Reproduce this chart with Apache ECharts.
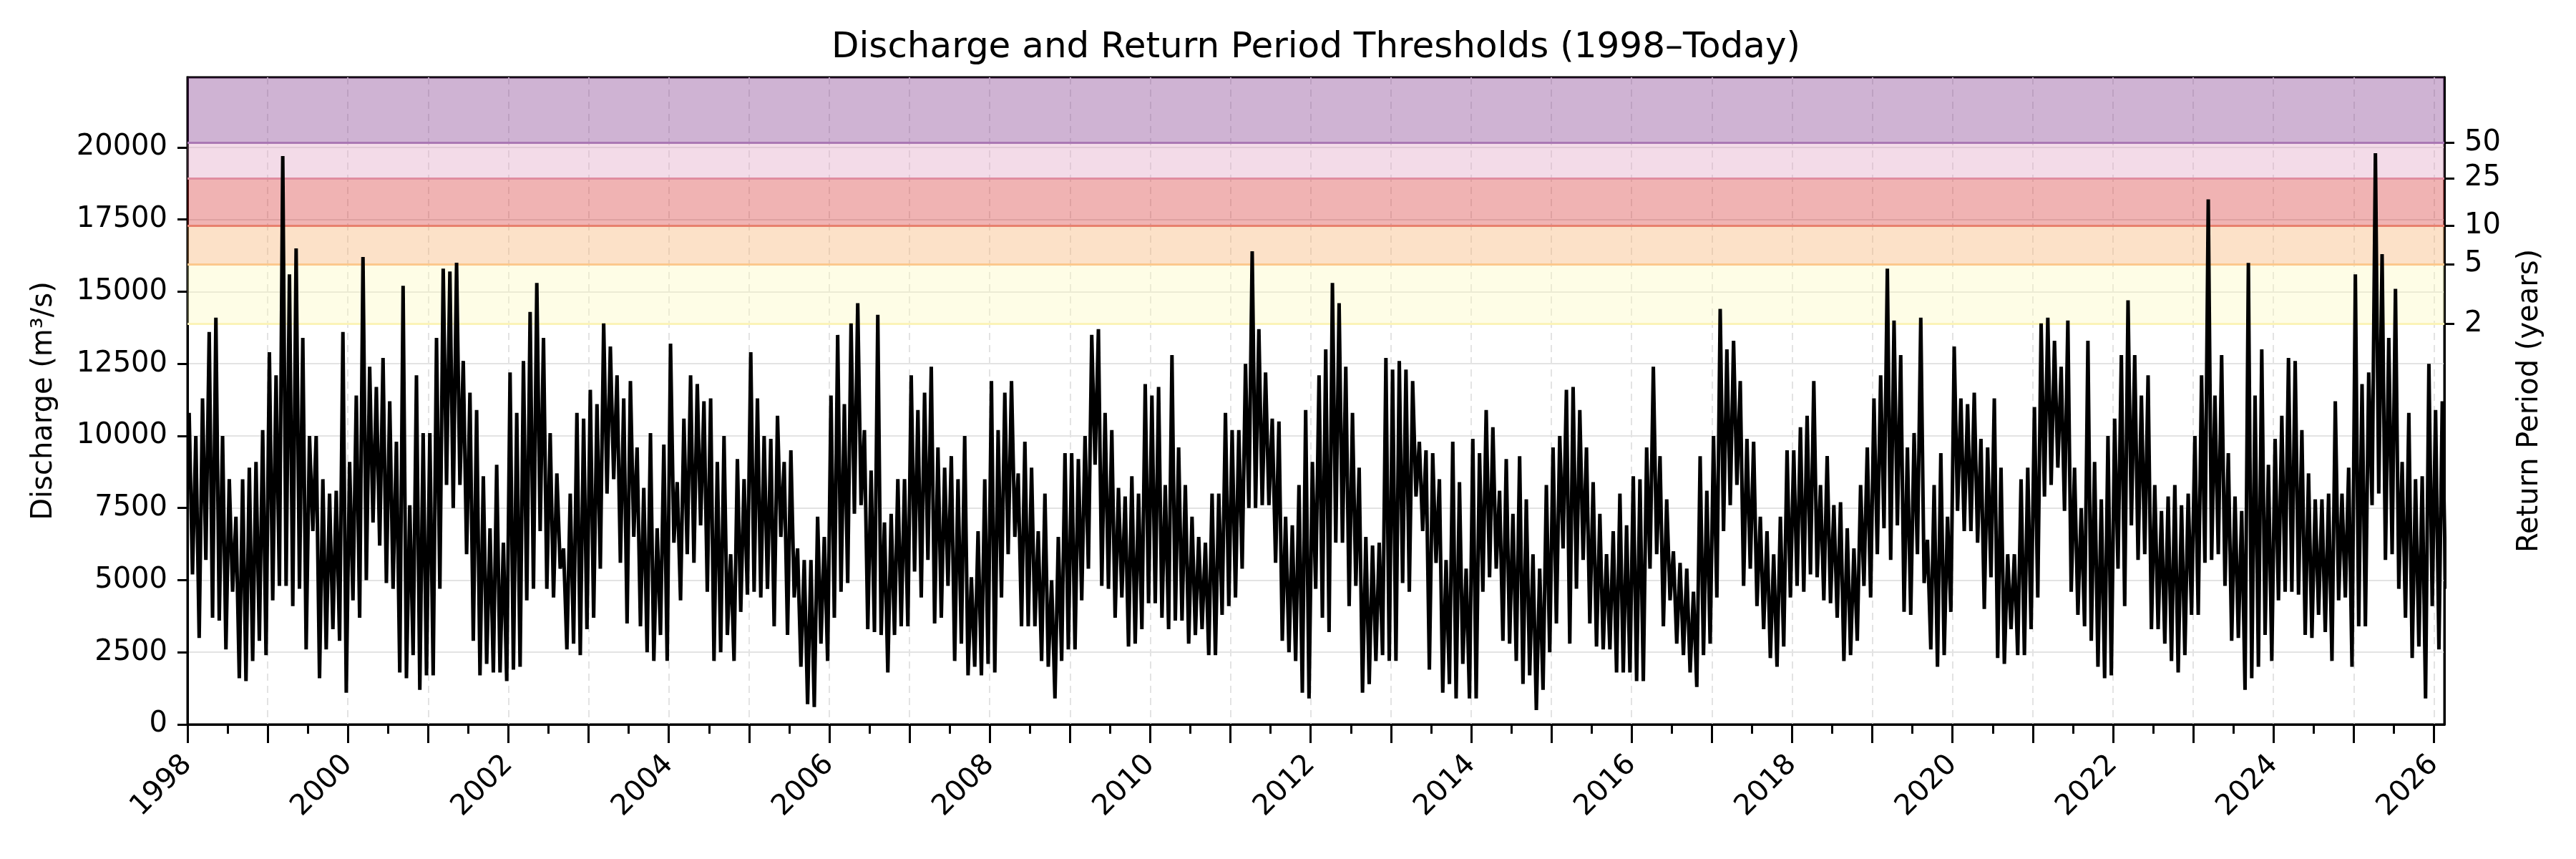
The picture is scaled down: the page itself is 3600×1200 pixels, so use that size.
<!DOCTYPE html>
<html><head><meta charset="utf-8">
<script src="https://cdn.jsdelivr.net/npm/echarts@6/dist/echarts.min.js"></script>
<style>html,body{margin:0;padding:0;background:#fff}#c{width:3600px;height:1200px}</style>
</head><body><div id="c"></div>
<script>
// ---- data (monthly envelope, m3/s) ----
const startYear = 1998;
const monthHigh = [
 10800,10000,11300,13600,14100,10000,8500,7200,8500,8900,9100,10200,
 12900,12100,19700,15600,16500,13400,10000,10000,8500,8000,8100,13600,
 9100,11400,16200,12400,11700,12700,11200,9800,15200,7600,12100,10100,
 10100,13400,15800,15700,16000,12600,11500,10900,8600,6800,9000,6300,
 12200,10800,12600,14300,15300,13400,10100,8700,6100,8000,10800,10600,
 11600,11100,13900,13100,12100,11300,11900,9600,8200,10100,6800,9700,
 13200,8400,10600,12100,11800,11200,11300,9100,10000,5900,9200,8500,
 12900,11300,10000,9900,10700,9100,9500,6100,5700,5700,7200,6500,
 11400,13500,11100,13900,14600,10200,8800,14200,7000,7300,8500,8500,
 12100,10900,11500,12400,9600,8900,9300,8500,10000,5100,6700,8500,
 11900,10200,11500,11900,8700,9800,8900,6700,8000,5000,6500,9400,
 9400,9200,10000,13500,13700,10800,10200,8200,7900,8600,8000,11800,
 11400,11700,8300,12800,9600,8300,7200,6500,6300,8000,8000,10800,
 10200,10200,12500,16400,13700,12200,10600,10500,7200,6900,8300,10900,
 9100,12100,13000,15300,14600,12400,10800,8900,6500,6200,6300,12700,
 12300,12600,12300,11900,9800,9500,9400,8500,5700,9800,8400,5400,
 9900,9400,10900,10300,8100,9200,7300,9300,7800,5900,5400,8300,
 9600,10000,11600,11700,10900,9600,8400,7300,5900,6700,8000,6900,
 8600,8500,9600,12400,9300,7800,6000,5600,5400,4600,9300,8100,
 10000,14400,13000,13300,11900,9900,9800,7200,6700,5900,7200,9500,
 9500,10300,10700,11900,8300,9300,7600,7700,6800,6100,8300,9600,
 11300,12100,15800,14000,12800,9600,10100,14100,6400,8300,9400,7200,
 13100,11300,11100,11500,9900,9600,11300,8900,5900,5900,8500,8900,
 11000,13900,14100,13300,12400,14000,8900,7500,13300,9100,7800,10000,
 10600,12800,14700,12800,11400,12100,8300,7400,7900,8300,7600,8000,
 10000,12100,18200,11400,12800,9400,7900,7400,16000,11400,13000,9000,
 9900,10700,12700,12600,10200,8700,7800,7800,8000,11200,8000,8900,
 15600,11800,12200,19800,16300,13400,15100,9100,10800,8500,8600,12500,
 10900,11200
];
const monthLow = [
 5200,3000,5700,3700,3600,2600,4600,1600,1500,2200,2900,2400,
 4300,4800,4800,4100,4700,2600,6700,1600,2600,3300,2900,1100,
 4300,3700,5000,7000,6200,4900,4700,1800,1600,2400,1200,1700,
 1700,4700,8300,7500,8300,5900,2900,1700,2100,1800,1800,1500,
 1900,2000,4300,4700,6700,4700,4400,5400,2600,2800,2400,3300,
 3700,5400,8000,8500,5600,3500,6500,3400,2500,2200,3100,2200,
 6300,4300,5900,5600,6900,4600,2200,2500,3100,2200,3900,4500,
 4600,4400,4700,3400,6500,3100,4400,2000,700,600,2800,2200,
 3700,4600,4900,7300,7600,3300,3200,3100,1800,3100,3400,3400,
 5300,4400,5700,3500,3700,4800,2200,2800,1700,2000,1700,2100,
 1800,4400,5900,6500,3400,3400,3400,2200,2000,900,2200,2600,
 2600,4300,5400,9000,4800,4700,3700,4400,2700,2800,3300,4200,
 4200,3700,3300,3600,3600,2800,3100,3300,2400,2400,3800,4100,
 4400,5400,7500,7500,7600,7600,5600,2900,2500,2200,1100,900,
 4700,3700,3200,6300,6300,4100,4800,1100,1400,2200,2400,2200,
 2200,4900,4600,7900,6700,1900,5600,1100,1400,900,2100,900,
 900,4600,5100,5400,2900,2800,2200,1400,1700,500,1200,2500,
 3500,6100,2800,4700,5700,3500,2700,2600,2600,1800,1800,1800,
 1500,1500,5400,5900,3400,4300,2800,2400,1800,1300,2400,2800,
 4400,6700,7600,8300,4800,5400,4100,3300,2300,2000,2700,4400,
 4800,4600,5200,5100,4300,4200,3700,2200,2400,2900,4800,4400,
 5900,6800,5700,6900,3900,3800,5900,4900,2600,2000,2400,3900,
 7400,6700,6700,6300,4000,5100,2300,2100,3300,2400,2400,3300,
 4400,7900,8300,8900,7400,4600,3800,3400,2900,2000,1600,1700,
 5400,4100,6900,5700,5900,3300,3300,2800,2200,1800,2400,3800,
 3800,5600,5700,5900,4800,2900,3000,1200,1600,2000,3100,2200,
 4300,4600,4600,4500,3100,3000,3800,3200,2200,4300,4400,2000,
 3400,3400,7600,8000,5700,5900,4700,3700,2300,2700,900,4100,
 2600,4700
];
// return-period thresholds (m3/s) and their labels
const thresholds = [13880, 15960, 17290, 18930, 20160];
const returnPeriods = ['2', '5', '10', '25', '50'];
// axis ticks
const yTicks = [0, 2500, 5000, 7500, 10000, 12500, 15000, 17500, 20000];
const yearTicks = [1998,1999,2000,2001,2002,2003,2004,2005,2006,2007,2008,2009,2010,2011,2012,2013,2014,2015,2016,2017,2018,2019,2020,2021,2022,2023,2024,2025,2026];
const yearLabels = [1998,2000,2002,2004,2006,2008,2010,2012,2014,2016,2018,2020,2022,2024,2026];
const halfYearTicks = [1998.5,1999.5,2000.5,2001.5,2002.5,2003.5,2004.5,2005.5,2006.5,2007.5,2008.5,2009.5,2010.5,2011.5,2012.5,2013.5,2014.5,2015.5,2016.5,2017.5,2018.5,2019.5,2020.5,2021.5,2022.5,2023.5,2024.5,2025.5];

// ---- build ----
const Y_MAX = 22430, X_MIN = 1998, X_MAX = 2026.13;
const line = [];
for (let i = 0; i < monthHigh.length; i++) {
  line.push([startYear + (i + 0.25) / 12, monthHigh[i]]);
  line.push([startYear + (i + 0.75) / 12, monthLow[i]]);
}
const bandColors = ['rgba(252,249,184,0.35)','rgba(246,169,98,0.35)','rgba(212,38,38,0.35)','rgba(221,152,189,0.35)','rgba(118,38,129,0.35)'];
const lineColors = ['#fbf3b8','#fcc88c','#e8806e','#e08ca0','#aa78b4'];
const bands = thresholds.map((t, i) => [
  { yAxis: t, itemStyle: { color: bandColors[i] } },
  { yAxis: i + 1 < thresholds.length ? thresholds[i + 1] : Y_MAX }
]);
const tLines = thresholds.map((t, i) => ({ yAxis: t, lineStyle: { color: lineColors[i], width: 3, type: 'solid' } }));

const FONT = 'DejaVu Sans';
const chart = echarts.init(document.getElementById('c'), null, { renderer: 'canvas' });
chart.setOption({
  animation: false,
  backgroundColor: '#fff',
  textStyle: { fontFamily: FONT },
  grid: { left: 262, right: 184, top: 108, bottom: 188, show: true, borderColor: '#000', borderWidth: 3, backgroundColor: 'transparent' },
  graphic: [{ type: 'text', x: 1839, y: 67, style: { text: 'Discharge and Return Period Thresholds (1998–Today)', font: '50px "DejaVu Sans"', fill: '#000', textAlign: 'center', textVerticalAlign: 'middle' } }],
  xAxis: [{
    type: 'value', min: X_MIN, max: X_MAX, interval: 1,
    axisLine: { show: true, lineStyle: { color: '#000', width: 3 } },
    axisTick: { show: true, customValues: yearTicks, length: 26, lineStyle: { color: '#000', width: 3 } },
    axisLabel: { customValues: yearLabels, rotate: 45, margin: 50, fontSize: 40, color: '#000', fontFamily: FONT, formatter: v => String(Math.round(v)) },
    splitLine: { show: true, lineStyle: { color: '#e3e3e3', width: 2, type: [10, 7] } }
  }, {
    type: 'value', min: X_MIN, max: X_MAX, position: 'bottom',
    axisLine: { show: false },
    axisTick: { show: true, customValues: halfYearTicks, length: 13, lineStyle: { color: '#000', width: 3 } },
    axisLabel: { show: false }, splitLine: { show: false }
  }],
  yAxis: [{
    type: 'value', min: 0, max: Y_MAX, interval: 2500, position: 'left',
    name: 'Discharge (m³/s)', nameLocation: 'middle', nameGap: 180,
    nameTextStyle: { fontSize: 40, color: '#000', fontFamily: FONT },
    axisLine: { show: true, lineStyle: { color: '#000', width: 3 } },
    axisTick: { show: true, customValues: yTicks, length: 14, lineStyle: { color: '#000', width: 3 } },
    axisLabel: { customValues: yTicks, fontSize: 40, color: '#000', margin: 28, fontFamily: FONT, formatter: v => String(v) },
    splitLine: { show: true, lineStyle: { color: '#e3e3e3', width: 2 } }
  }, {
    type: 'value', min: 0, max: Y_MAX, position: 'right',
    name: 'Return Period (years)', nameLocation: 'middle', nameGap: 100,
    nameTextStyle: { fontSize: 40, color: '#000', fontFamily: FONT },
    axisLine: { show: true, lineStyle: { color: '#000', width: 3 } },
    axisTick: { show: true, customValues: thresholds, length: 14, lineStyle: { color: '#000', width: 3 } },
    axisLabel: { customValues: thresholds, fontSize: 40, color: '#000', margin: 28, fontFamily: FONT,
      formatter: v => { const k = thresholds.indexOf(v); return k >= 0 ? returnPeriods[k] : ''; } },
    splitLine: { show: false }
  }],
  series: [{
    type: 'line', xAxisIndex: 0, yAxisIndex: 0, data: [], z: 1, silent: true,
    markArea: { silent: true, data: bands },
    markLine: { silent: true, symbol: 'none', label: { show: false }, data: tLines }
  }, {
    type: 'line', xAxisIndex: 0, yAxisIndex: 0, data: line, z: 5,
    showSymbol: false, symbol: 'none', sampling: 'none',
    lineStyle: { color: '#000', width: 5 }
  }]
});
</script></body></html>
